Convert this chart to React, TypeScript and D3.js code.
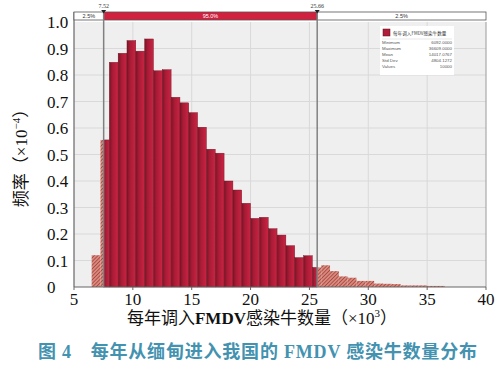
import React from 'react';
import * as d3 from 'd3';

// histogram bins (x in thousands, width 0.75), density x10^-4
const BIN_START = 6.5;
const BIN_WIDTH = 0.75;
const DENSITY = [
  0.12, 0.555, 0.848, 0.882, 0.93, 0.89, 0.936, 0.816, 0.82, 0.716,
  0.695, 0.658, 0.603, 0.52, 0.505, 0.40, 0.366, 0.316, 0.259, 0.263,
  0.22, 0.196, 0.156, 0.111, 0.118, 0.074, 0.082, 0.06, 0.04, 0.035,
  0.023, 0.023, 0.013, 0.012, 0.011, 0.006, 0.006, 0.006, 0.004, 0.004,
];
const LOWER = 7.52;
const UPPER = 25.66;
const RANGE_LABELS = ['2.5%', '95.0%', '2.5%'];
const X_TICKS = [5, 10, 15, 20, 25, 30, 35, 40];
const Y_TICKS = [0, 0.1, 0.2, 0.3, 0.4, 0.5, 0.6, 0.7, 0.8, 0.9, 1.0];
const STAT_NAMES = ['Minimum', 'Maximum', 'Mean', 'Std Dev', 'Values'];
const STAT_VALUES = ['6092.0000', '36609.0000', '14017.0767', '4804.1272', '10000'];

const W = 500;
const H = 373;
const serif = '"Liberation Serif", "Times New Roman", "Noto Sans CJK SC", serif';
const cjk = '"Liberation Serif", "Noto Sans CJK SC", serif';

export default function App() {
  const x = d3.scaleLinear().domain([5, 40]).range([74, 486]);
  const y = d3.scaleLinear().domain([0, 1]).range([287, 22]);

  const bins = DENSITY.map((v, i) => {
    const x0 = BIN_START + i * BIN_WIDTH;
    return { x0, x1: x0 + BIN_WIDTH, v };
  });

  // split each bin into solid (inside range) and hatched (outside) parts
  const pieces: { a: number; b: number; v: number; hatch: boolean }[] = [];
  bins.forEach((d) => {
    const cuts = [d.x0, d.x1];
    [LOWER, UPPER].forEach((c) => { if (c > d.x0 && c < d.x1) cuts.splice(1, 0, c); });
    cuts.sort((p, q) => p - q);
    for (let k = 0; k < cuts.length - 1; k++) {
      const mid = (cuts[k] + cuts[k + 1]) / 2;
      pieces.push({ a: cuts[k], b: cuts[k + 1], v: d.v, hatch: mid < LOWER || mid > UPPER });
    }
  });

  const barTop = 12;
  const barH = 8;
  const segs = [
    { a: 5, b: LOWER, fill: '#ffffff', text: '#333', label: RANGE_LABELS[0] },
    { a: LOWER, b: UPPER, fill: '#d2203f', text: '#fff', label: RANGE_LABELS[1] },
    { a: UPPER, b: 40, fill: '#ffffff', text: '#333', label: RANGE_LABELS[2] },
  ];

  return (
    <svg width={W} height={H} style={{ position: 'absolute', left: 0, top: 0, background: '#fff' }}>
      <defs>
        <linearGradient id="barGrad" x1="0" x2="1" y1="0" y2="0">
          <stop offset="0%" stopColor="#7a1426" />
          <stop offset="35%" stopColor="#a81b35" />
          <stop offset="100%" stopColor="#c92443" />
        </linearGradient>
        <pattern id="hatch" width="2.6" height="2.6" patternUnits="userSpaceOnUse" patternTransform="rotate(45)">
          <rect width="2.6" height="2.6" fill="#d98a7e" />
          <line x1="0" y1="0" x2="0" y2="2.6" stroke="#922c2a" strokeWidth="1.2" />
        </pattern>
      </defs>

      {/* plot background + grid */}
      <rect x={x(5)} y={y(1)} width={x(40) - x(5)} height={y(0) - y(1)} fill="#efefef" />
      {Y_TICKS.slice(1, -1).map((t) => (
        <line key={'gy' + t} x1={x(5)} x2={x(40)} y1={y(t)} y2={y(t)} stroke="#d9d9d9" strokeWidth={1} />
      ))}
      {X_TICKS.slice(1, -1).map((t) => (
        <line key={'gx' + t} x1={x(t)} x2={x(t)} y1={y(1)} y2={y(0)} stroke="#d9d9d9" strokeWidth={1} />
      ))}

      {/* bars */}
      {pieces.map((p, i) => (
        <rect
          key={'b' + i}
          x={x(p.a)}
          y={y(p.v)}
          width={x(p.b) - x(p.a)}
          height={y(0) - y(p.v)}
          fill={p.hatch ? 'url(#hatch)' : 'url(#barGrad)'}
          stroke={p.hatch ? 'none' : '#6e1222'}
          strokeWidth={0.4}
        />
      ))}

      {/* frame */}
      <line x1={x(40)} x2={x(40)} y1={y(1)} y2={y(0)} stroke="#9a9a9a" strokeWidth={1} />
      <line x1={x(5)} x2={x(5)} y1={barTop} y2={y(0)} stroke="#666" strokeWidth={1.2} />
      <line x1={x(5)} x2={x(40)} y1={y(0)} y2={y(0)} stroke="#666" strokeWidth={1.2} />
      {X_TICKS.map((t) => (
        <line key={'tk' + t} x1={x(t)} x2={x(t)} y1={y(0)} y2={y(0) + 3} stroke="#666" strokeWidth={1} />
      ))}

      {/* range bar on top */}
      {segs.map((s, i) => (
        <g key={'s' + i}>
          <rect x={x(s.a)} y={barTop} width={x(s.b) - x(s.a)} height={barH} fill={s.fill} stroke="#555" strokeWidth={0.8} />
          <text x={(x(s.a) + x(s.b)) / 2} y={barTop + 6} fontSize={5.5} textAnchor="middle" fill={s.text} fontFamily='"Liberation Sans", sans-serif'>
            {s.label}
          </text>
        </g>
      ))}

      {/* range markers */}
      {[LOWER, UPPER].map((m) => (
        <g key={'m' + m}>
          <line x1={x(m)} x2={x(m)} y1={barTop} y2={y(0)} stroke="#808080" strokeWidth={1.5} />
          <path d={`M${x(m) - 2.5},${barTop - 2} L${x(m) + 2.5},${barTop - 2} L${x(m)},${barTop + 1.5} Z`} fill="#222" />
          <text x={x(m)} y={barTop - 4} fontSize={6} textAnchor="middle" fill="#333" fontFamily={serif}>
            {m.toFixed(2)}
          </text>
        </g>
      ))}

      {/* legend */}
      <g>
        <rect x={380} y={26} width={74} height={49} fill="#fff" />
        <rect x={383} y={29} width={7} height={7} fill="#b01d38" stroke="#5a0e1a" strokeWidth={0.5} />
        <text x={393} y={34.5} fontSize={4.6} fill="#333" fontFamily='"Noto Sans CJK SC", sans-serif'>每年调入FMDV感染牛数量</text>
        <line x1={382} x2={452} y1={39} y2={39} stroke="#ccc" strokeWidth={0.5} />
        {STAT_NAMES.map((n, i) => (
          <g key={n}>
            <text x={382} y={44 + i * 6} fontSize={4.4} fill="#555" fontFamily='"Liberation Sans", sans-serif'>{n}</text>
            <text x={452} y={44 + i * 6} fontSize={4.4} fill="#555" textAnchor="end" fontFamily='"Liberation Sans", sans-serif'>{STAT_VALUES[i]}</text>
          </g>
        ))}
      </g>

      {/* y tick labels */}
      {Y_TICKS.map((t) => (
        <text key={'yl' + t} x={47} y={y(t) + 6} fontSize={17} fill="#111" fontFamily={serif}>
          {t === 0 ? '0' : t.toFixed(1)}
        </text>
      ))}

      {/* x tick labels */}
      {X_TICKS.map((t) => (
        <text key={'xl' + t} x={x(t)} y={305} fontSize={17} textAnchor="middle" fill="#111" fontFamily={serif}>
          {t}
        </text>
      ))}

      {/* axis titles */}
      <text x={262} y={324} fontSize={17} textAnchor="middle" fill="#111" fontFamily={cjk}>
        每年调入<tspan fontWeight="bold">FMDV</tspan>感染牛数量（×10<tspan dy={-7} fontSize={11}>3</tspan><tspan dy={7}>）</tspan>
      </text>
      <text transform="translate(27,154) rotate(-90)" fontSize={17} textAnchor="middle" fill="#111" fontFamily={cjk}>
        频率（×10<tspan dy={-7} fontSize={11}>−4</tspan><tspan dy={7}>）</tspan>
      </text>

      {/* caption */}
      <text x={38} y={358} fontSize={18} fill="#4392b0" fontFamily={cjk} fontWeight={600} letterSpacing={0.8}>
        图 4　每年从缅甸进入我国的 FMDV 感染牛数量分布
      </text>
    </svg>
  );
}
